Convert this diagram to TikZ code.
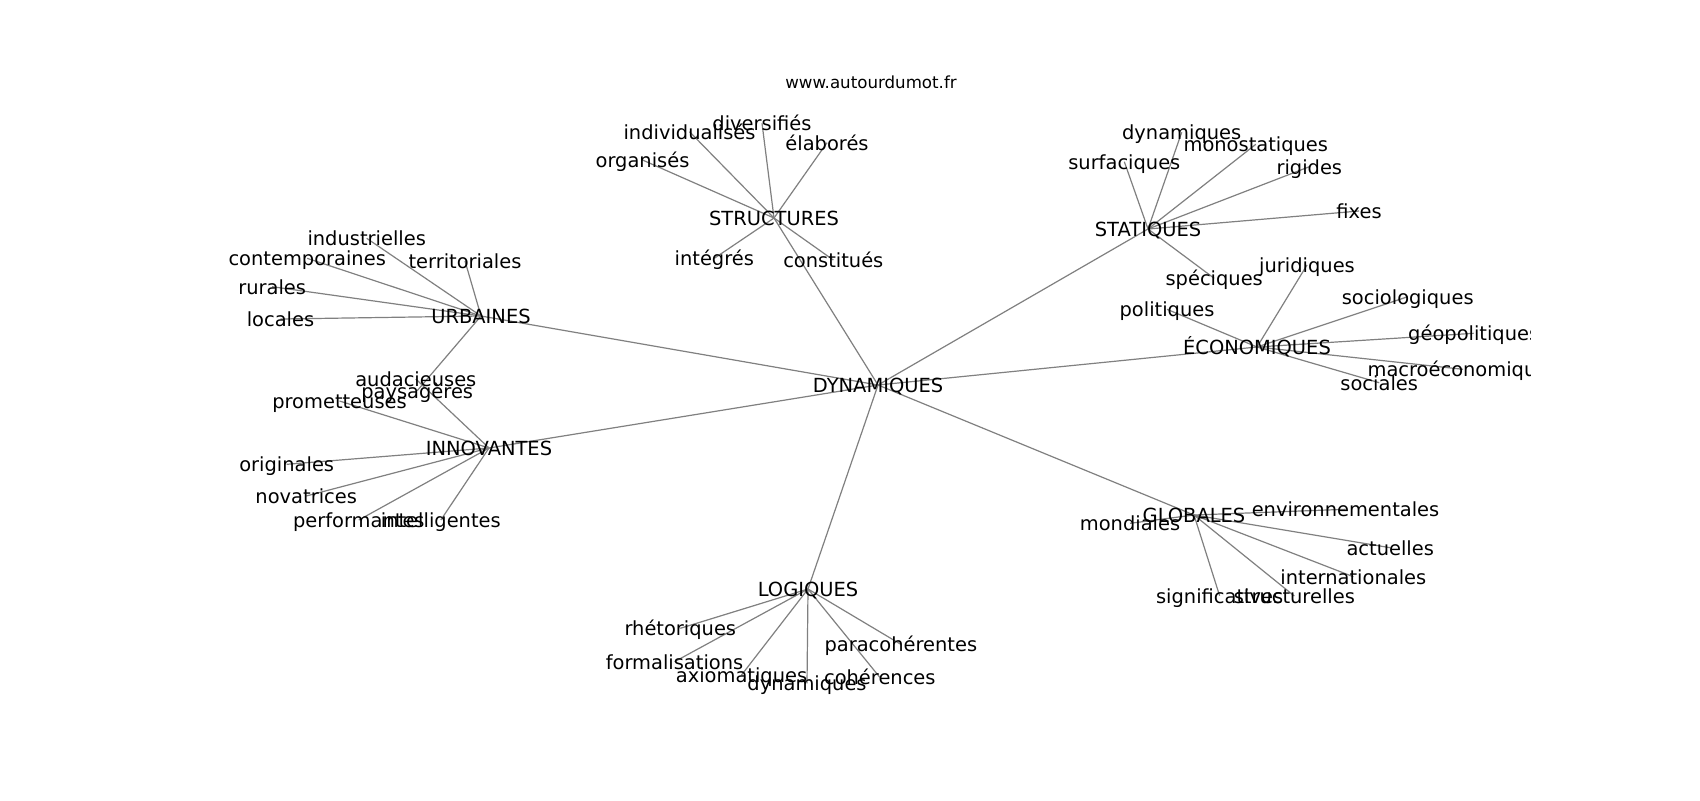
\documentclass[tikz,border=0pt]{standalone}
\usepackage{fontspec}
\setmainfont{DejaVu Sans}
\pgfdeclarelayer{background}
\pgfsetlayers{background,main}
\tikzset{
  lbl/.style={inner sep=0pt, font=\fontsize{9.72}{11}\selectfont, text height=0.73em, text depth=0pt},
  ttl/.style={inner sep=0pt, font=\fontsize{8.33}{10}\selectfont, anchor=base},
  linkline/.style={draw=gray, line width=0.6pt}
}
\begin{document}
\begin{tikzpicture}[x=0.5pt,y=-0.5pt]
\useasboundingbox (0,0) rectangle (1700,800);
\node[ttl] (title) at (871,88.3) {www.autourdumot.fr};
\begin{scope}
\clip (212.5,96) rectangle (1530,704);
% hub and categories
\node[lbl] (D) at (878,385) {DYNAMIQUES};
\node[lbl] (S) at (774,218) {STRUCTURES};
\node[lbl] (U) at (481,316) {URBAINES};
\node[lbl] (I) at (489,448) {INNOVANTES};
\node[lbl] (L) at (808,589) {LOGIQUES};
\node[lbl] (G) at (1194,515) {GLOBALES};
\node[lbl] (E) at (1257,347) {ÉCONOMIQUES};
\node[lbl] (T) at (1148,229) {STATIQUES};
% STRUCTURES leaves
\node[lbl] (s1) at (642.5,160) {organisés};
\node[lbl] (s2) at (689.5,131.7) {individualisés};
\node[lbl] (s3) at (762,123.3) {diversifiés};
\node[lbl] (s4) at (827,142.7) {élaborés};
\node[lbl] (s5) at (714.3,258.3) {intégrés};
\node[lbl] (s6) at (833.3,260) {constitués};
% URBAINES leaves
\node[lbl] (u1) at (366.7,238.3) {industrielles};
\node[lbl] (u2) at (307.2,258.3) {contemporaines};
\node[lbl] (u3) at (465,261) {territoriales};
\node[lbl] (u4) at (272.2,286.7) {rurales};
\node[lbl] (u5) at (280.5,319) {locales};
\node[lbl] (u6) at (417.2,390.7) {paysagères};
% INNOVANTES leaves
\node[lbl] (i1) at (415.8,379) {audacieuses};
\node[lbl] (i2) at (339.5,401) {prometteuses};
\node[lbl] (i3) at (286.7,464.3) {originales};
\node[lbl] (i4) at (306.2,496) {novatrices};
\node[lbl] (i5) at (358.8,520) {performantes};
\node[lbl] (i6) at (440.8,520) {intelligentes};
% LOGIQUES leaves
\node[lbl] (l1) at (680.3,628.3) {rhétoriques};
\node[lbl] (l2) at (674.5,661.7) {formalisations};
\node[lbl] (l3) at (741.5,675) {axiomatiques};
\node[lbl] (l4) at (807,683.3) {dynamiques};
\node[lbl] (l5) at (879.8,677.3) {cohérences};
\node[lbl] (l6) at (900.8,644.3) {paracohérentes};
% GLOBALES leaves
\node[lbl] (g1) at (1130,523.3) {mondiales};
\node[lbl] (g2) at (1345.5,509.3) {environnementales};
\node[lbl] (g3) at (1390.2,547.7) {actuelles};
\node[lbl] (g4) at (1353.3,576.7) {internationales};
\node[lbl] (g5) at (1219.6,595.7) {significatives};
\node[lbl] (g6) at (1294.3,596) {structurelles};
% ECONOMIQUES leaves
\node[lbl] (e1) at (1167,309.3) {politiques};
\node[lbl] (e2) at (1307,265) {juridiques};
\node[lbl] (e3) at (1407.7,296.7) {sociologiques};
\node[lbl] (e4) at (1473.7,333.3) {géopolitiques};
\node[lbl] (e5) at (1463,369.3) {macroéconomiques};
\node[lbl] (e6) at (1379.2,382.7) {sociales};
% STATIQUES leaves
\node[lbl] (t1) at (1124.3,161.7) {surfaciques};
\node[lbl] (t2) at (1181.7,132.3) {dynamiques};
\node[lbl] (t3) at (1255.8,144.3) {monostatiques};
\node[lbl] (t4) at (1309.3,166.7) {rigides};
\node[lbl] (t5) at (1359,211) {fixes};
\node[lbl] (t6) at (1214.2,278.3) {spéciques};
\end{scope}
\begin{pgfonlayer}{background}
\fill[white] (0,0) rectangle (1700,800);
\foreach \c in {S,U,I,L,G,E,T} {\draw[linkline] (D.center) -- (\c.center);}
\foreach \c/\p in {S/s,U/u,I/i,L/l,G/g,E/e,T/t} {
  \foreach \k in {1,...,6} {\draw[linkline] (\c.center) -- (\p\k.center);}
}
\end{pgfonlayer}
\end{tikzpicture}
\end{document}
